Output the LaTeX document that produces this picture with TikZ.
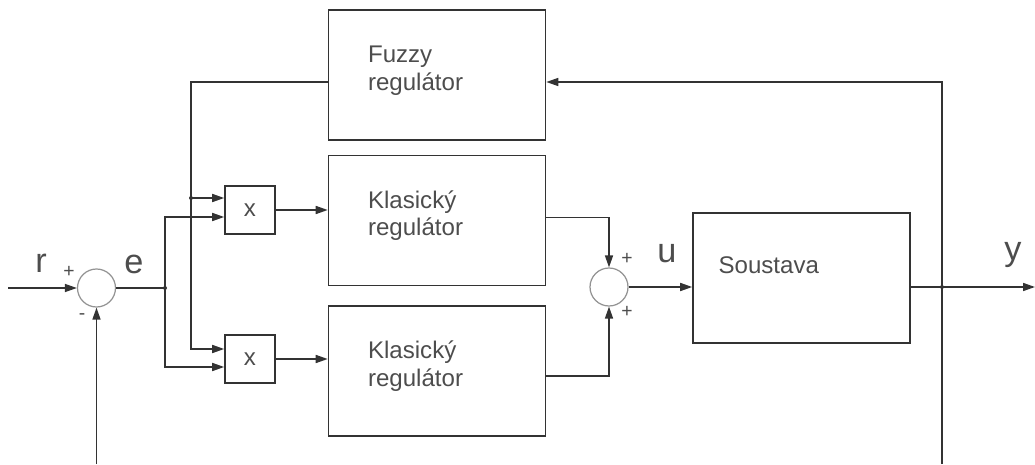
\documentclass[tikz,border=0pt]{standalone}
\usepackage{fontspec}
\setmainfont{Liberation Sans}
\usepackage{tikz}
\usetikzlibrary{positioning,arrows.meta,calc}
\definecolor{wirecol}{HTML}{333333}
\definecolor{txtcol}{HTML}{4D4D4D}

\begin{document}
\begin{tikzpicture}[x=0.2mm,y=-0.2mm,
  box/.style={draw=wirecol,line width=0.9pt,minimum width=43.4mm,minimum height=26mm,inner sep=0pt},
  mult/.style={draw=wirecol,line width=0.9pt,minimum width=10mm,minimum height=9.7mm,inner sep=0pt,text=txtcol,font=\fontsize{13.7}{15.7}\selectfont},
  sum/.style={draw=gray!85,line width=0.7pt,circle,minimum size=7.6mm,inner sep=0pt},
  txt/.style={anchor=west,inner sep=0pt,align=left,text=txtcol,font=\fontsize{13.7}{15.7}\selectfont},
  sig/.style={inner sep=0pt,text=txtcol,font=\fontsize{19.5}{22}\selectfont},
  sgn/.style={inner sep=0pt,text=txtcol,font=\fontsize{11}{13}\selectfont},
  dot/.style={circle,fill=wirecol,inner sep=0pt,minimum size=0.8mm},
  wire/.style={draw=wirecol,line width=0.9pt},
  ar/.style={wire,-{Triangle[length=2.4mm,width=1.6mm]}}]
\useasboundingbox (0,0) rectangle (1035,464);
\node[box] (fuzzy) at (437,75) {};
\node[box,below=2.8mm of fuzzy] (klasA) {};
\node[box,below=3.8mm of klasA] (klasB) {};
\node[box] (plant) at (801.5,278) {};
\node[txt] (fuzzyT) at ($(fuzzy.west)+(40,-4)$) {Fuzzy\\regulátor};
\node[txt] (klasAT) at ($(klasA.west)+(40,-5)$) {Klasický\\regulátor};
\node[txt] (klasBT) at ($(klasB.west)+(40,-5)$) {Klasický\\regulátor};
\node[txt] (plantT) at ($(plant.west)+(26,-13)$) {Soustava};
\node[sum] (sum1) at (96.5,288) {};
\node[sum] (sum2) at (609,287) {};
\node[mult] (mulA) at (250,210) {x};
\node[mult] (mulB) at (250,359) {x};
% branch points and free ends
\coordinate (rin) at (8,288);
\coordinate (fbL) at (96.5,464);
\coordinate (je) at (165,288);
\coordinate (jf) at (191,198);
\coordinate (jy) at (942,287);
\coordinate (fbR) at (942,464);
\coordinate (yout) at (1035,287);
\draw[ar] (rin) -- (sum1); \draw[ar] (fbL) -- (sum1.south);
\draw[wire] (sum1) -- (je);
\draw[ar] (je) |- ($(mulA.west)+(0,7)$);
\draw[ar] (je) |- ($(mulB.west)+(0,8)$);
\draw[ar] ($(fuzzy.west)+(0,7)$) -| (jf) |- ($(mulB.west)+(0,-10)$);
\draw[ar] (jf) -- (jf -| mulA.west);
\draw[ar] (mulA) -- (mulA -| klasA.west);
\draw[ar] (mulB) -- (mulB -| klasB.west);
\draw[ar] ([yshift=0.6mm]klasA.east) -| (sum2.north);
\draw[ar] ([yshift=-1mm]klasB.east) -| (sum2.south);
\draw[ar] (sum2) -- (sum2 -| plant.west);
\draw[ar] (plant.east |- jy) -- (yout);
\draw[ar] (fbR) |- ($(fuzzy.east)+(0,7)$);
\node[dot] (dotE) at (je) {}; \node[dot] (dotF) at (jf) {}; \node[dot] (dotY) at (jy) {};
% signal names and signs
\node[sig] (rlbl) at (41,263) {r};
\node[sig] (elbl) at (134,264) {e};
\node[sig] (ulbl) at (667,254) {u};
\node[sig] (ylbl) at (1013,255) {y};
\node[sgn] (plus1) at (69,272) {+};
\node[sgn] (minus1) at (82,317) {-};
\node[sgn] (plus2) at (627,259) {+};
\node[sgn] (plus3) at (627,312) {+};
\end{tikzpicture}
\end{document}
